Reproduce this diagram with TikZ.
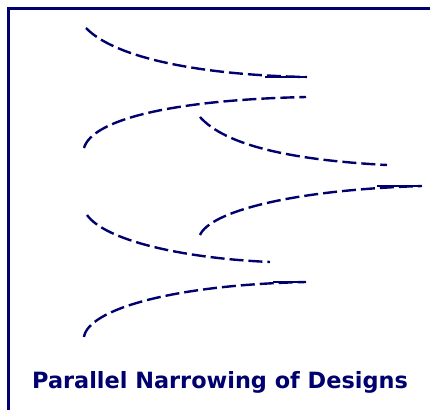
\documentclass[tikz,border=0pt]{standalone}
\usepackage{fontspec}
\setmainfont{DejaVu Sans}
\definecolor{navy}{RGB}{0,0,110}
\begin{document}
\begin{tikzpicture}[x=1pt,y=-1pt,
  curve/.style={draw=navy,line width=2.4pt,dash pattern=on 14pt off 5pt},
  tail/.style={draw=navy,line width=2.4pt},
  frame/.style={draw=navy,line width=3.3pt},
  title/.style={text=navy,font=\bfseries\fontsize{22.4}{25}\selectfont,anchor=base}]
\useasboundingbox (0,0) rectangle (430,410);
\fill[white] (0,0) rectangle (430,410);
\coordinate (tl) at (8.3,8.3);
\coordinate (tr) at (430,8.3);
\coordinate (bl) at (8.3,410);
\draw[frame] (tr) -- (tl) -- (bl);
% curve 1
\coordinate (a0) at (86,28); \coordinate (a1) at (307,77); \coordinate (a2) at (265,77);
\draw[curve] (a0) .. controls (115,58) and (200,75) .. (a1);
\draw[tail] (a2) -- (a1);
% curve 2
\coordinate (b0) at (84,148); \coordinate (b1) at (306,97);
\draw[curve] (b0) .. controls (92,120) and (170,100) .. (b1);
% curve 3
\coordinate (c0) at (200,117); \coordinate (c1) at (387,165);
\draw[curve] (c0) .. controls (225,145) and (290,160) .. (c1);
% curve 4
\coordinate (d0) at (200,235); \coordinate (d1) at (422,186); \coordinate (d2) at (377,186);
\draw[curve] (d0) .. controls (210,212) and (290,190) .. (d1);
\draw[tail] (d2) -- (d1);
% curve 5
\coordinate (e0) at (87,215); \coordinate (e1) at (270,262);
\draw[curve] (e0) .. controls (105,240) and (180,258) .. (e1);
% curve 6
\coordinate (f0) at (84,337); \coordinate (f1) at (306,282); \coordinate (f2) at (273,282);
\draw[curve] (f0) .. controls (88,310) and (170,285) .. (f1);
\draw[tail] (f2) -- (f1);
\node[title] (t) at (220,388) {Parallel Narrowing of Designs};
\end{tikzpicture}
\end{document}
